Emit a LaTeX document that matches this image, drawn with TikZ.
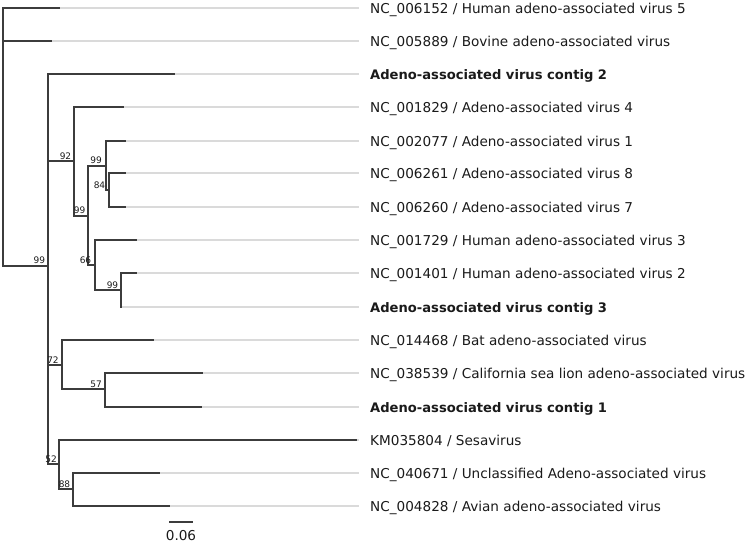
\documentclass[tikz,border=0pt]{standalone}
\usepackage{fontspec}
\setmainfont{DejaVu Sans}
\definecolor{branch}{HTML}{3C3C3C}
\definecolor{guide}{HTML}{DADADA}
\definecolor{ink}{HTML}{1A1A1A}
\begin{document}
\begin{tikzpicture}[x=1pt,y=-1pt,
  br/.style={draw=branch,line width=1.5pt,line cap=rect},
  guideline/.style={draw=guide,line width=1.1pt},
  lab/.style={anchor=west,inner sep=0pt,text height=10pt,text depth=0pt,text=ink,font=\fontsize{13.6}{16}\selectfont},
  blab/.style={lab,font=\fontsize{13.1}{16}\selectfont\bfseries},
  boot/.style={inner sep=0pt,text height=6.6pt,text depth=0pt,text=ink,font=\fontsize{9}{10}\selectfont}]
\useasboundingbox (0,0) rectangle (749,544);
% leaf tips
\coordinate (t1) at (59,8);
\coordinate (t2) at (51,41);
\coordinate (t3) at (174,74);
\coordinate (t4) at (123,107);
\coordinate (t5) at (125,141);
\coordinate (t6) at (125,173);
\coordinate (t7) at (125,207);
\coordinate (t8) at (136,240);
\coordinate (t9) at (136,273);
\coordinate (t10) at (121,307);
\coordinate (t11) at (153,340);
\coordinate (t12) at (202,373);
\coordinate (t13) at (201,407);
\coordinate (t14) at (356,440);
\coordinate (t15) at (159,473);
\coordinate (t16) at (169,506);
% internal nodes
\coordinate (R) at (3,266);
\coordinate (A) at (48,266);
\coordinate (B) at (74,161);
\coordinate (C) at (88,216);
\coordinate (D) at (106,166);
\coordinate (E) at (109,190);
\coordinate (F) at (95,265);
\coordinate (G) at (121,290);
\coordinate (H) at (62,365);
\coordinate (I) at (105,389);
\coordinate (J) at (59,464);
\coordinate (K) at (73,489);
% labels
\node[lab]  (n1)  at (370,8)   {NC\_006152 / Human adeno-associated virus 5};
\node[lab]  (n2)  at (370,41)  {NC\_005889 / Bovine adeno-associated virus};
\node[blab] (n3)  at (370,74)  {Adeno-associated virus contig 2};
\node[lab]  (n4)  at (370,107) {NC\_001829 / Adeno-associated virus 4};
\node[lab]  (n5)  at (370,141) {NC\_002077 / Adeno-associated virus 1};
\node[lab]  (n6)  at (370,173) {NC\_006261 / Adeno-associated virus 8};
\node[lab]  (n7)  at (370,207) {NC\_006260 / Adeno-associated virus 7};
\node[lab]  (n8)  at (370,240) {NC\_001729 / Human adeno-associated virus 3};
\node[lab]  (n9)  at (370,273) {NC\_001401 / Human adeno-associated virus 2};
\node[blab] (n10) at (370,307) {Adeno-associated virus contig 3};
\node[lab]  (n11) at (370,340) {NC\_014468 / Bat adeno-associated virus};
\node[lab]  (n12) at (370,373) {NC\_038539 / California sea lion adeno-associated virus};
\node[blab] (n13) at (370,407) {Adeno-associated virus contig 1};
\node[lab]  (n14) at (370,440) {KM035804 / Sesavirus};
\node[lab]  (n15) at (370,473) {NC\_040671 / Unclassified Adeno-associated virus};
\node[lab]  (n16) at (370,506) {NC\_004828 / Avian adeno-associated virus};
% guide lines
\foreach \i in {1,...,16} {
  \draw[guideline] (t\i) -- ([xshift=-11pt]n\i.west);
}
% root
\draw[br] (R |- t1) -- (R);
\draw[br] (R |- t1) -- (t1);
\draw[br] (R |- t2) -- (t2);
\draw[br] (R) -- (A);
% A
\draw[br] (A |- t3) -- (A |- J);
\draw[br] (A |- t3) -- (t3);
\draw[br] (A |- B) -- (B);
\draw[br] (A |- H) -- (H);
\draw[br] (A |- J) -- (J);
% B
\draw[br] (B |- t4) -- (B |- C);
\draw[br] (B |- t4) -- (t4);
\draw[br] (B |- C) -- (C);
% C
\draw[br] (C |- D) -- (C |- F);
\draw[br] (C |- D) -- (D);
\draw[br] (C |- F) -- (F);
% D
\draw[br] (D |- t5) -- (D |- E);
\draw[br] (D |- t5) -- (t5);
\draw[br] (D |- E) -- (E);
% E
\draw[br] (E |- t6) -- (E |- t7);
\draw[br] (E |- t6) -- (t6);
\draw[br] (E |- t7) -- (t7);
% F
\draw[br] (F |- t8) -- (F |- G);
\draw[br] (F |- t8) -- (t8);
\draw[br] (F |- G) -- (G);
% G
\draw[br] (G |- t9) -- (G |- t10);
\draw[br] (G |- t9) -- (t9);
% H
\draw[br] (H |- t11) -- (H |- I);
\draw[br] (H |- t11) -- (t11);
\draw[br] (H |- I) -- (I);
% I
\draw[br] (I |- t12) -- (I |- t13);
\draw[br] (I |- t12) -- (t12);
\draw[br] (I |- t13) -- (t13);
% J
\draw[br] (J |- t14) -- (J |- K);
\draw[br] (J |- t14) -- (t14);
\draw[br] (J |- K) -- (K);
% K
\draw[br] (K |- t15) -- (K |- t16);
\draw[br] (K |- t15) -- (t15);
\draw[br] (K |- t16) -- (t16);
% bootstrap values
\node[boot] (bA) at (39.3,260.3) {99};
\node[boot] (bB) at (65.5,155.7) {92};
\node[boot] (bD) at (96.2,160.3) {99};
\node[boot] (bE) at (99.5,185.2) {84};
\node[boot] (bC) at (79.7,209.7) {99};
\node[boot] (bF) at (85.5,259.7) {66};
\node[boot] (bG) at (112.5,284.7) {99};
\node[boot] (bH) at (53,359.7) {72};
\node[boot] (bI) at (96.2,384.5) {57};
\node[boot] (bJ) at (51.2,458.7) {52};
\node[boot] (bK) at (64.5,483.7) {88};
% scale bar
\coordinate (s1) at (169,522);
\coordinate (s2) at (193,522);
\draw[draw=branch,line width=1.5pt] (s1) -- (s2);
\node[inner sep=0pt,text height=10pt,text depth=0pt,text=ink,font=\fontsize{13.6}{16}\selectfont] (sc) at (181,535) {0.06};
\end{tikzpicture}
\end{document}
